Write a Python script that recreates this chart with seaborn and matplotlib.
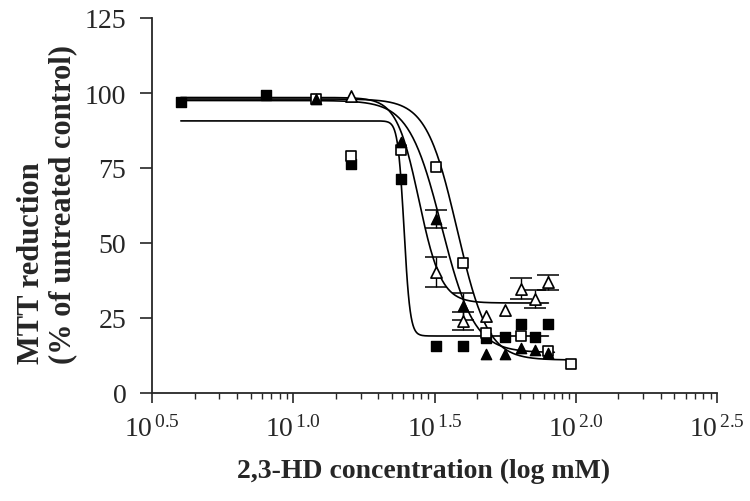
import numpy as np
import pandas as pd
import matplotlib
matplotlib.use('Agg')
import matplotlib.pyplot as plt
import matplotlib.ticker as mticker
import seaborn as sns

# concentrations (mM) and MTT reduction (% of untreated control)
conc = [4, 8, 12, 16, 24, 32, 40, 48, 56, 64, 72, 80, 96]
nan = np.nan

filled_sq  = [97.0, 99.4, nan, 76.5, 71.3, 15.8, 15.8, 18.5, 18.7, 23.0, 18.7, 23.0, nan]
open_sq    = [nan, nan, 98.0, 79.0, 81.0, 75.3, 43.3, 20.0, nan, 19.0, nan, 14.0, 9.7]
filled_tri = [nan, nan, 98.0, nan, 83.7, 58.0, 29.0, 13.0, 13.0, 15.0, 14.5, 13.5, nan]
open_tri   = [nan, nan, nan, 98.9, nan, 40.3, 24.0, 25.7, 27.7, 34.7, 31.3, 37.0, nan]

# standard errors (only where a bar is visible)
filled_tri_err = [nan, nan, nan, nan, nan, 3.0, 4.5, nan, nan, nan, nan, nan, nan]
open_tri_err   = [nan, nan, nan, nan, nan, 5.0, 3.0, nan, nan, 3.5, 3.0, 2.5, nan]

# fitted sigmoid parameters: top, bottom, log EC50, Hill slope, last conc of fit
fit_names  = ['filled_sq', 'open_sq', 'filled_tri', 'open_tri']
fit_top    = [90.7, 98.0, 97.5, 98.5]
fit_bottom = [19.0, 11.0, 13.5, 30.0]
fit_logec  = [1.392, 1.58, 1.525, 1.445]
fit_hill   = [40, 8, 7.5, 11]
fit_end    = [80, 96, 84, 80]

serif = ['Liberation Serif', 'DejaVu Serif']
sns.set_style('ticks')
plt.rcParams['font.family'] = serif
plt.rcParams['mathtext.fontset'] = 'custom'
plt.rcParams['mathtext.rm'] = 'Liberation Serif'
plt.rcParams['mathtext.it'] = 'Liberation Serif:italic'
plt.rcParams['mathtext.bf'] = 'Liberation Serif:bold'

fig = plt.figure(figsize=(7.5, 5.02), dpi=100)
ax = fig.add_axes([152 / 750, 1 - 394 / 502, (717 - 152) / 750, (394 - 19) / 502])

# fitted curves
curves = []
for name, t, b, c, h, end in zip(fit_names, fit_top, fit_bottom, fit_logec, fit_hill, fit_end):
    xs = np.logspace(np.log10(4), np.log10(end), 400)
    ys = b + (t - b) / (1 + 10 ** (h * (np.log10(xs) - c)))
    curves.append(pd.DataFrame({'conc': xs, 'mtt': ys, 'series': name}))
curve_df = pd.concat(curves, ignore_index=True)
sns.lineplot(data=curve_df, x='conc', y='mtt', units='series', estimator=None,
             color='black', linewidth=1.2, ax=ax, zorder=2)

# error bars
for vals, errs in [(filled_tri, filled_tri_err), (open_tri, open_tri_err)]:
    d = pd.DataFrame({'x': conc, 'y': vals, 'e': errs}).dropna()
    ax.errorbar(d['x'], d['y'], yerr=d['e'], fmt='none', ecolor='black',
                elinewidth=1, capsize=8, capthick=1.1, zorder=3)

# data points
sns.scatterplot(x=conc, y=filled_sq, marker='s', color='black', edgecolor='black',
                s=60, linewidth=1, ax=ax, zorder=4)
sns.scatterplot(x=conc, y=open_sq, marker='s', color='white', edgecolor='black',
                s=60, linewidth=1.2, ax=ax, zorder=5)
sns.scatterplot(x=conc, y=filled_tri, marker='^', color='black', edgecolor='black',
                s=55, linewidth=1, ax=ax, zorder=6)
sns.scatterplot(x=conc, y=open_tri, marker='^', color='white', edgecolor='black',
                s=65, linewidth=1.2, ax=ax, zorder=7)

ax.set_xscale('log')
ax.set_xlim(10 ** 0.5, 10 ** 2.5)
ax.set_ylim(0, 125)

major = [10 ** e for e in [0.5, 1.0, 1.5, 2.0, 2.5]]
ax.xaxis.set_major_locator(mticker.FixedLocator(major))
ax.xaxis.set_major_formatter(mticker.FixedFormatter(
    [r'$\mathregular{10^{\,%s}}$' % s for s in ['0.5', '1.0', '1.5', '2.0', '2.5']]))
minor = [10 ** m * np.sqrt(k) for m in [0.5, 1.0, 1.5, 2.0] for k in range(2, 10)]
ax.xaxis.set_minor_locator(mticker.FixedLocator(minor))
ax.xaxis.set_minor_formatter(mticker.NullFormatter())
ax.set_yticks([0, 25, 50, 75, 100, 125])

ax.tick_params(axis='x', which='major', direction='out', length=7, width=1.2,
               labelsize=20, pad=9)
ax.tick_params(axis='x', which='minor', direction='out', length=4, width=1)
ax.tick_params(axis='y', direction='out', length=8.5, width=1.2, labelsize=20, pad=10)

sns.despine(ax=ax)
for sp in ['left', 'bottom']:
    ax.spines[sp].set_linewidth(1.3)
ax.set_xlabel('')
ax.set_ylabel('')

fig.text(47 / 750, 1 - 364 / 502, 'MTT reduction\n(% of untreated control)',
         rotation=90, ha='center', va='bottom', ma='left', fontsize=22,
         fontweight='bold', linespacing=1.1)
fig.text(424 / 750, 1 - 471 / 502, '2,3-HD concentration (log mM)',
         ha='center', va='center', fontsize=20, fontweight='bold')

fig.savefig('out.png', dpi=100)
